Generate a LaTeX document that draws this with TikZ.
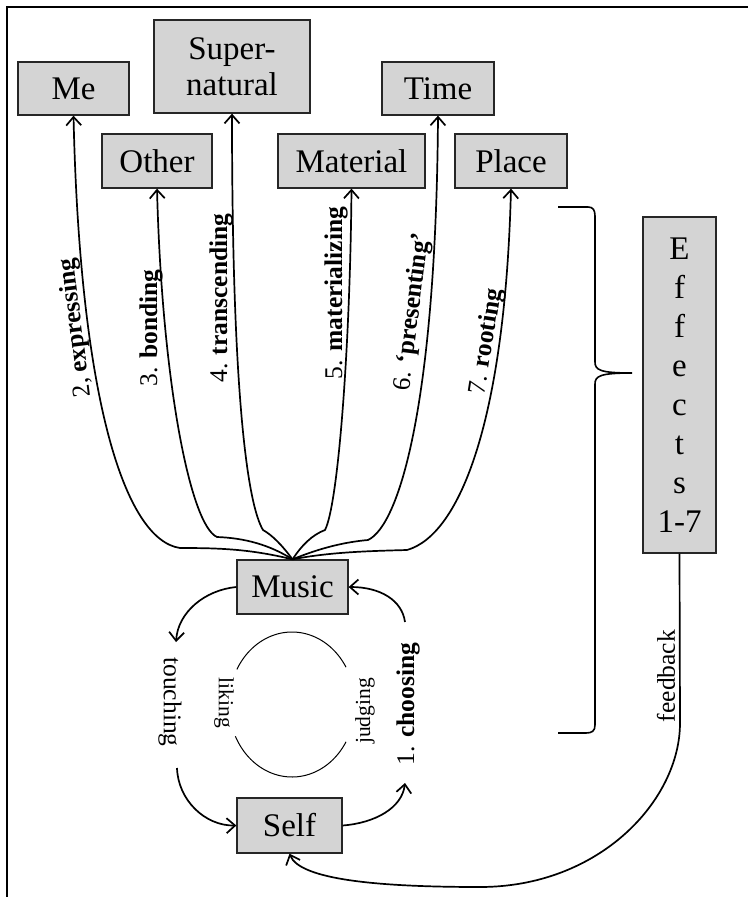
\documentclass[tikz,border=0pt]{standalone}
\usepackage{fontspec}
\setmainfont{Liberation Serif}
\usetikzlibrary{arrows.meta}
\definecolor{boxgray}{gray}{0.83}
\begin{document}
\begin{tikzpicture}[x=1pt,y=-1pt,
  box/.style={draw=black!85, line width=1.3pt, fill=boxgray, inner sep=0pt,
    font=\fontsize{33}{36}\selectfont, align=center},
  conn/.style={line width=1.7pt, -{Straight Barb[length=8.5pt,width=15pt,line width=1.7pt]}},
  plainline/.style={line width=1.6pt},
  lbl/.style={inner sep=0pt, font=\fontsize{25.5}{28}\selectfont},
  smalllbl/.style={inner sep=0pt, font=\fontsize{21.5}{24}\selectfont}]
\useasboundingbox (0,0) rectangle (748,897);
\draw[line width=2.5pt] (7,897) -- (7,7) -- (748,7);

% boxes
\node[box, minimum width=111, minimum height=53] (me) at (73.5,88.5) {Me};
\node[box, minimum width=156, minimum height=93] (sup) at (232,66.5) {Super-\\natural};
\node[box, minimum width=110, minimum height=54] (other) at (157,161) {Other};
\node[box, minimum width=147, minimum height=54] (mat) at (351.5,161) {Material};
\node[box, minimum width=112, minimum height=53] (time) at (438,88.5) {Time};
\node[box, minimum width=112, minimum height=54] (place) at (511,161) {Place};
\node[box, minimum width=73, minimum height=336, font=\fontsize{33}{39}\selectfont] (eff) at (679.5,385) {E\\f\\f\\e\\c\\t\\s\\1-7};
\node[box, minimum width=111, minimum height=54] (music) at (292.5,587) {Music};
\node[box, minimum width=105, minimum height=55] (self) at (289.5,825.5) {Self};

% fan of effects
\draw[conn] (music.north) .. controls (250,549) and (220,548) .. (180,548)
  .. controls (125,540) and (80,400) .. (me.south);
\draw[conn] (music.north) .. controls (270,545) and (245,538) .. (217,537)
  .. controls (190,525) and (162,380) .. (other.south);
\draw[conn] (music.north) .. controls (282,545) and (272,535) .. (263,530)
  .. controls (248,505) and (232,400) .. (sup.south);
\draw[conn] (music.north) .. controls (302,545) and (312,535) .. (325,530)
  .. controls (338,505) and (350,350) .. (mat.south);
\draw[conn] (music.north) .. controls (320,548) and (345,542) .. (368,540)
  .. controls (400,525) and (436,400) .. (time.south);
\draw[conn] (music.north) .. controls (330,552) and (370,551) .. (407,550)
  .. controls (460,535) and (505,420) .. (place.south);

\node[lbl, rotate=97] (l2) at (76,328) {2, \textbf{expressing}};
\node[lbl, rotate=90] (l3) at (151,328) {3. \textbf{bonding}};
\node[lbl, rotate=90] (l4) at (221,298) {4. \textbf{transcending}};
\node[lbl, rotate=90] (l5) at (336,293) {5. \textbf{materializing}};
\node[lbl, rotate=83] (l6) at (413,312) {6. \textbf{`presenting'}};
\node[lbl, rotate=81] (l7) at (487,342) {7. \textbf{rooting}};

% brace
\draw[plainline] (558,207) -- (588,207) .. controls (593,207) and (595,210) .. (595,216)
  -- (595,362) .. controls (595,370) and (600,373) .. (632,373)
  .. controls (600,373) and (595,376) .. (595,384)
  -- (595,725) .. controls (595,731) and (592,733) .. (586,733) -- (558,733);

% feedback
\coordinate (fb1) at (680,723);
\coordinate (fb2) at (480,887);
\draw[conn] (eff.south) -- (fb1) .. controls (680,800) and (600,887) .. (fb2)
  .. controls (380,887) and (300,880) .. (self.south);
\node[lbl, rotate=90] (fbl) at (666,676) {feedback};

% cycle
\coordinate (tA) at (176,642);
\coordinate (tB) at (177,768);
\coordinate (cA) at (405,783);
\coordinate (cB) at (405,622);
\draw[conn] (music.west) .. controls (205,590) and (178,612) .. (tA);
\node[lbl, rotate=-90] (touch) at (170,702) {touching};
\draw[conn] (tB) .. controls (178,800) and (205,826) .. (self.west);
\draw[conn] (self.east) .. controls (375,823) and (402,808) .. (cA);
\node[lbl, rotate=90] (choose) at (408,704) {1. \textbf{choosing}};
\draw[conn] (cB) .. controls (402,600) and (380,587) .. (music.east);

% inner circle
\draw[line width=1pt] plot[domain=31:151, samples=60] ({292+63*cos(\x)}, {704.5-72.5*sin(\x)});
\draw[line width=1pt] plot[domain=206:329, samples=60] ({292+63*cos(\x)}, {704.5-72.5*sin(\x)});
\node[smalllbl, rotate=-90] (liking) at (224,703) {liking};
\node[smalllbl, rotate=90] (judging) at (365,711) {judging};
\end{tikzpicture}
\end{document}
